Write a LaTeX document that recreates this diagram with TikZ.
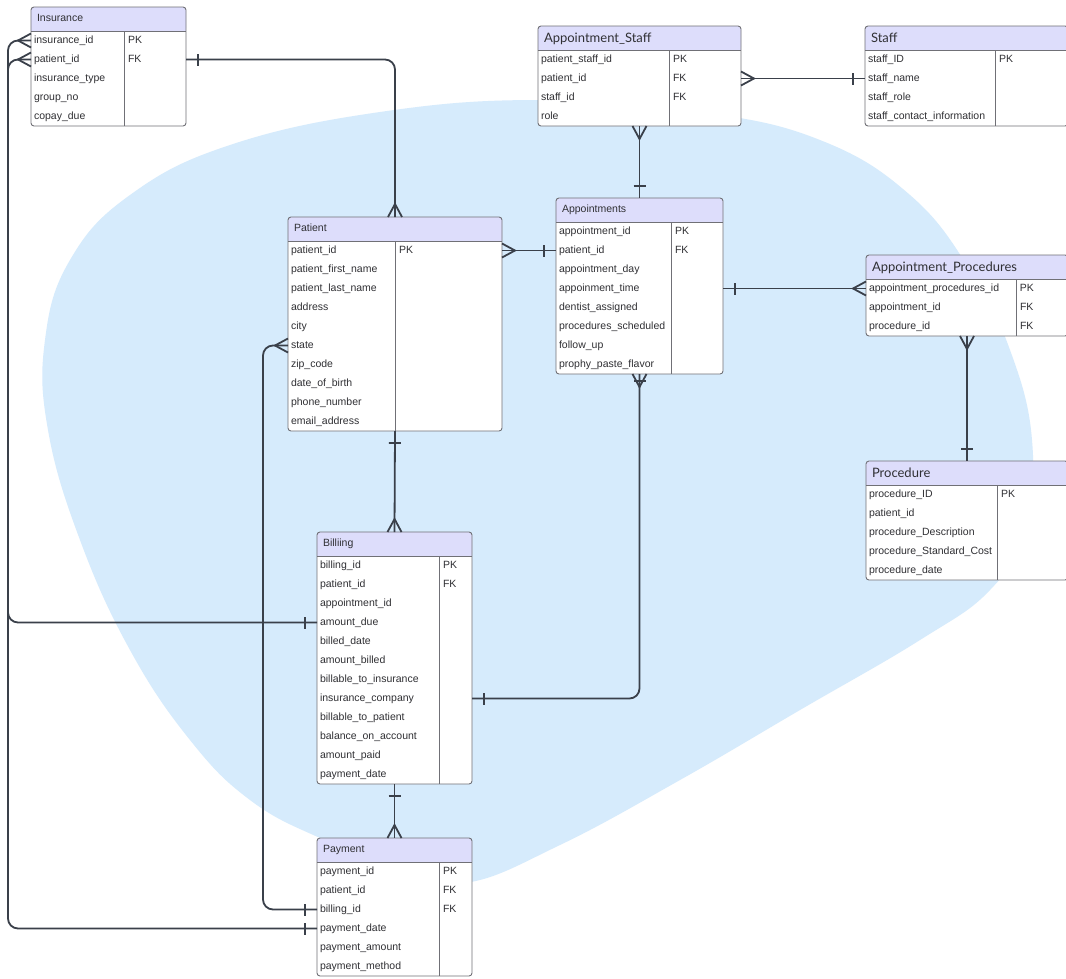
\documentclass[tikz,border=0pt]{standalone}
\usepackage{fontspec}
\setmainfont{Liberation Sans}
\newfontfamily\latofont{Lato}
\usepackage{tikz}
\usetikzlibrary{positioning,decorations.markings,calc}
\definecolor{blobblue}{RGB}{214,235,252}
\definecolor{hdrlav}{RGB}{221,221,251}
\definecolor{gridgrey}{RGB}{112,112,118}
\definecolor{linedark}{RGB}{58,64,74}
\definecolor{textgrey}{RGB}{48,48,52}
\pgfdeclarelayer{blob}
\pgfdeclarelayer{tablebg}
\pgfsetlayers{blob,tablebg,main}
\newcommand{\smallhd}{\fontsize{10.5pt}{12pt}\selectfont}
\newcommand{\bighd}{\fontsize{13pt}{15pt}\selectfont\latofont}
\newcommand{\rowfont}{\fontsize{10.5pt}{12pt}\selectfont}
\tikzstyle{erhead}=[inner sep=0pt,outer sep=0pt,minimum height=24pt,align=left,text=textgrey]
\tikzstyle{errow}=[inner sep=0pt,outer sep=0pt,minimum height=19pt,text height=8pt,text depth=3pt,align=left,text=textgrey,font=\rowfont]
\tikzstyle{tblline}=[draw=gridgrey,line width=0.9pt]
\tikzset{
  smallhead/.style={font=\smallhd,text height=8pt,text depth=3pt},
  bighead/.style={font=\bighd,text height=11pt,text depth=3pt},
  connline/.style={draw=linedark,line width=1.8pt,sharp corners},
  conn/.style={draw=linedark,line width=1.8pt,rounded corners=10pt},
  many start/.style={postaction={decorate,decoration={markings,
    mark=at position 0 with {\draw[connline] (0pt,7pt) -- (13pt,0pt) -- (0pt,-7pt);}}}},
  many end/.style={postaction={decorate,decoration={markings,
    mark=at position 1 with {\draw[connline] (0pt,7pt) -- (-13pt,0pt) -- (0pt,-7pt);}}}},
  one start/.style={postaction={decorate,decoration={markings,
    mark=at position 12pt with {\draw[connline] (0pt,-6pt) -- (0pt,6pt);}}}},
  one end/.style={postaction={decorate,decoration={markings,
    mark=at position -12pt with {\draw[connline] (0pt,-6pt) -- (0pt,6pt);}}}},
  bar end/.style={postaction={decorate,decoration={markings,
    mark=at position -7pt with {\draw[connline] (0pt,-6pt) -- (0pt,6pt);}}}}
}
% #1 name, #2 top left, #3 width, #4 key column, #5 header style, #6 title, #7 fields
\newcommand{\ertable}[7]{%
  \node[erhead,#5,text width=#3pt,anchor=north west] (#1-0) at #2 {\hspace*{6pt}#6};
  \foreach \fld/\key [count=\i, evaluate=\i as \j using int(\i-1)] in {#7}
    {\node[errow,text width=#3pt,below=0pt of #1-\j] (#1-\i)
      {\makebox[#4pt][l]{\hspace*{3pt}\fld}\hspace*{4pt}\key};
     \xdef\lastrow{\i}}
  \begin{pgfonlayer}{tablebg}
    \fill[white,rounded corners=3pt] (#1-0.north west) rectangle (#1-\lastrow.south east);
    \fill[hdrlav,rounded corners=3pt] (#1-0.north west) rectangle (#1-0.south east);
    \fill[hdrlav] ([yshift=5pt]#1-0.south west) rectangle (#1-0.south east);
  \end{pgfonlayer}
  \draw[tblline,rounded corners=3pt] (#1-0.north west) rectangle (#1-\lastrow.south east);
  \draw[tblline] (#1-0.south west) -- (#1-0.south east);
  \draw[tblline] ([xshift=#4pt]#1-0.south west) -- ([xshift=#4pt]#1-\lastrow.south west);
}

\begin{document}
\begin{tikzpicture}[x=1pt,y=-1pt]
\useasboundingbox (0,0) rectangle (1066,978);
\begin{pgfonlayer}{blob}
\fill[white] (0,0) rectangle (1066,978);
\fill[blobblue] plot[smooth cycle,tension=0.7] coordinates {
  (465,883) (400,868) (320,838) (250,800) (190,740) (130,650) (80,540)
  (48,430) (45,340) (70,260) (130,195) (230,145) (380,112) (540,100)
  (700,112) (820,140) (910,195) (970,270) (1010,350) (1032,440)
  (1025,530) (990,590) (920,640) (800,710) (680,780) (560,845)};
\end{pgfonlayer}

\ertable{ins}{(31,7)}{155}{93}{smallhead}{Insurance}
  {insurance\_id/PK, patient\_id/FK, insurance\_type/{}, group\_no/{}, copay\_due/{}}
\ertable{ast}{(538,26)}{203}{131}{bighead}{Appointment\_Staff}
  {patient\_staff\_id/PK, patient\_id/FK, staff\_id/FK, role/{}}
\ertable{stf}{(865,26)}{203}{130}{bighead}{Staff}
  {staff\_ID/PK, staff\_name/{}, staff\_role/{}, staff\_contact\_information/{}}
\ertable{pat}{(288,217)}{214}{107}{smallhead}{Patient}
  {patient\_id/PK, patient\_first\_name/{}, patient\_last\_name/{}, address/{}, city/{},
   state/{}, zip\_code/{}, date\_of\_birth/{}, phone\_number/{}, email\_address/{}}
\ertable{app}{(556,198)}{167}{115}{smallhead}{Appointments}
  {appointment\_id/PK, patient\_id/FK, appointment\_day/{}, appoinment\_time/{},
   dentist\_assigned/{}, procedures\_scheduled/{}, follow\_up/{}, prophy\_paste\_flavor/{}}
\ertable{apr}{(866,255)}{202}{150}{bighead}{Appointment\_Procedures}
  {appointment\_procedures\_id/PK, appointment\_id/FK, procedure\_id/FK}
\ertable{prc}{(866,461)}{202}{131}{bighead}{Procedure}
  {procedure\_ID/PK, patient\_id/{}, procedure\_Description/{}, procedure\_Standard\_Cost/{},
   procedure\_date/{}}
\ertable{bil}{(317,532)}{155}{122}{smallhead}{Billiing}
  {billing\_id/PK, patient\_id/FK, appointment\_id/{}, amount\_due/{}, billed\_date/{},
   amount\_billed/{}, billable\_to\_insurance/{}, insurance\_company/{},
   billable\_to\_patient/{}, balance\_on\_account/{}, amount\_paid/{}, payment\_date/{}}
\ertable{pay}{(317,838)}{155}{122}{smallhead}{Payment}
  {payment\_id/PK, patient\_id/FK, billing\_id/FK, payment\_date/{}, payment\_amount/{},
   payment\_method/{}}

\coordinate (leftrail) at (8,0);
\coordinate (staterail) at (263,0);

\draw[conn,one start,many end] (ins-2.east) -| (pat-0.north);
\draw[conn,many start,one end] (ins-1.west) -| (leftrail |- bil-4.west) -- (bil-4.west);
\draw[conn,many start,one end] (ins-2.west) -| (leftrail |- pay-4.west) -- (pay-4.west);
\draw[conn,many start,one end] (pat-6.west) -| (staterail |- pay-3.west) -- (pay-3.west);
\draw[conn,one start,many end] (pat-10.south) -- (bil-0.north);
\draw[conn,many start,one end] (pat-1.east) -- (app-2.west);
\draw[conn,many start,one end] (ast-4.south) -- (app-0.north);
\draw[conn,many start,one end] (ast-2.east) -- (stf-2.west);
\draw[conn,one start,many end] (app-4.east) -- (apr-1.west);
\draw[conn,many start,one end] (apr-3.south) -- (apr-3.south |- prc-0.north);
\draw[conn,one start,many end,bar end] (bil-8.east) -| (app-8.south);
\draw[conn,one start,many end] (bil-12.south) -- (pay-0.north);
\end{tikzpicture}
\end{document}
